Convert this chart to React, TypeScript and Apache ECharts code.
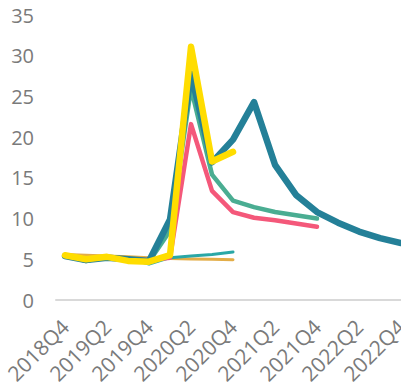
import React, { useEffect, useRef } from "react";
import * as echarts from "echarts";

const categories = [
  "2018Q4", "2019Q1", "2019Q2", "2019Q3", "2019Q4",
  "2020Q1", "2020Q2", "2020Q3", "2020Q4",
  "2021Q1", "2021Q2", "2021Q3", "2021Q4",
  "2022Q1", "2022Q2", "2022Q3", "2022Q4",
];

const navyValues = [5.4, 4.9, 5.2, 5.0, 4.8, 9.9, 27.8, 16.9, 19.7, 24.3, 16.6, 12.9, 10.8, 9.5, 8.4, 7.6, 7.0];
const yellowValues = [5.5, 5.0, 5.3, 4.8, 4.7, 5.5, 31.1, 17.0, 18.2];
const pinkValues = [5.4, 5.1, 5.2, 5.0, 4.9, 5.2, 21.6, 13.4, 10.8, 10.1, 9.8, 9.4, 9.0];
const greenValues = [5.4, 4.9, 5.2, 5.0, 4.7, 8.5, 26.0, 15.4, 12.2, 11.4, 10.8, 10.4, 10.0];
const tealValues = [5.4, 4.7, 5.3, 5.1, 4.4, 5.2, 5.4, 5.6, 5.9];
const orangeValues = [5.6, 5.5, 5.4, 5.3, 5.2, 5.1, 5.05, 5.0, 4.95];

const labelIndices = [0, 2, 4, 6, 8, 10, 12, 14, 16];

const FONT = "Open Sans";
const GRAY = "#7a7a7a";

function toPoints(values: number[]) {
  return values.map((v, i) => [i, v]);
}

function lineSeries(name: string, values: number[], color: string, width: number) {
  return {
    name,
    type: "line",
    data: toPoints(values),
    showSymbol: false,
    symbol: "none",
    clip: false,
    lineStyle: { color, width, cap: "round", join: "round" },
    emphasis: { disabled: true },
  };
}

export default function App() {
  const ref = useRef<HTMLDivElement>(null);
  useEffect(() => {
    if (!ref.current) return;
    const chart = echarts.init(ref.current, undefined, { renderer: "svg" });
    chart.setOption({
      animation: false,
      grid: { left: 56, right: 0, top: 15, bottom: 89, containLabel: false, outerBoundsMode: "none" },
      xAxis: {
        type: "value",
        min: -0.43,
        max: 16,
        splitLine: { show: false },
        axisTick: { show: false },
        axisLine: { show: true, lineStyle: { color: "#d9d9d9", width: 2 } },
        axisLabel: {
          customValues: labelIndices,
          formatter: (v: number) => categories[Math.round(v)] ?? "",
          rotate: 45,
          margin: 23,
          color: GRAY,
          fontFamily: FONT,
          fontSize: 21,
        },
      },
      yAxis: {
        type: "value",
        min: 0,
        max: 35,
        interval: 5,
        splitLine: { show: false },
        axisLine: { show: false },
        axisTick: { show: false },
        axisLabel: { color: GRAY, fontFamily: FONT, fontSize: 20, margin: 22 },
      },
      series: [
        lineSeries("orange", orangeValues, "#e3ad47", 3),
        lineSeries("teal", tealValues, "#2aa7a6", 3),
        lineSeries("pink", pinkValues, "#f4587a", 4.5),
        lineSeries("green", greenValues, "#4aad92", 4.5),
        lineSeries("navy", navyValues, "#248098", 6.5),
        lineSeries("yellow", yellowValues, "#ffdd00", 6.5),
      ],
    });
    return () => chart.dispose();
  }, []);
  return (
    <div
      ref={ref}
      style={{ position: "fixed", left: 0, top: 0, width: 401, height: 389, background: "#fff" }}
    />
  );
}
